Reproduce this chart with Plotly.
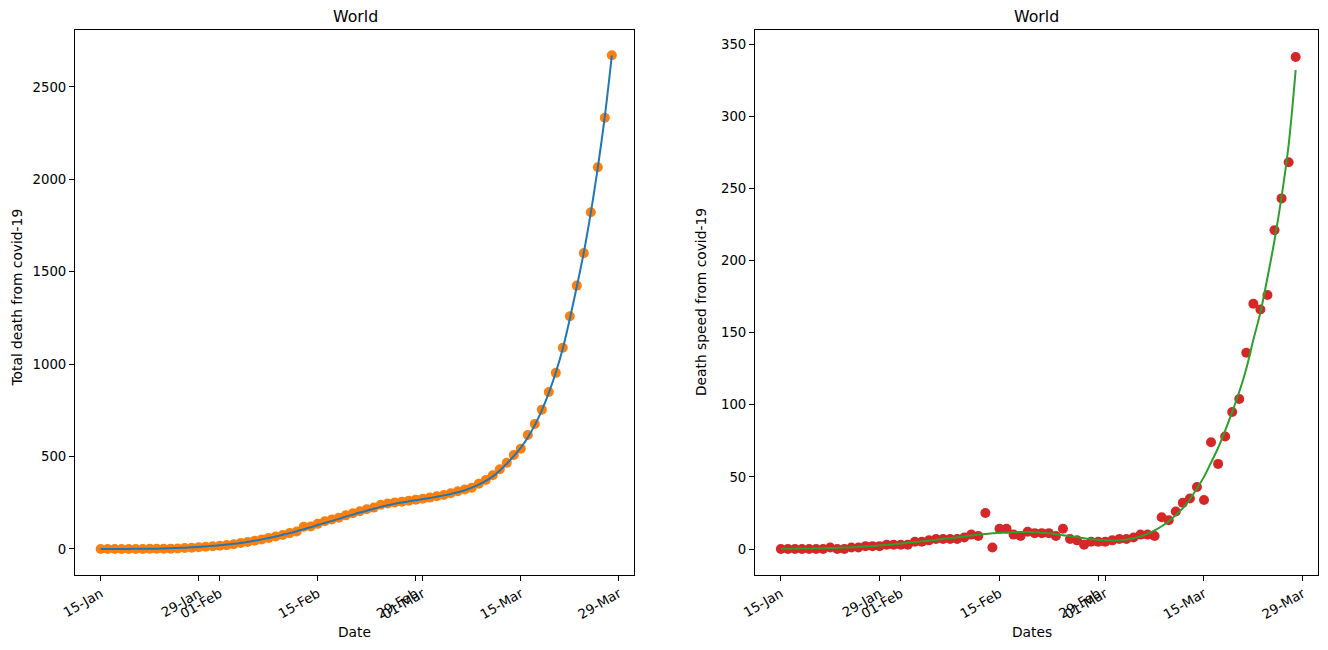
import pandas as pd
import plotly.graph_objects as go

start_date = "2020-01-15"
n_days = 74
dates = pd.date_range(start_date, periods=n_days)

total_deaths = [0, 0, 0, 0, 0, 0, 0, 1, 1, 1, 2, 3, 5, 7, 9, 12, 15, 18, 21, 26,
                32, 38, 45, 52, 60, 68, 76, 86, 95, 120, 122, 136, 150, 160, 169,
                182, 193, 204, 215, 224, 239, 246, 252, 256, 261, 267, 272, 278,
                285, 292, 302, 312, 322, 331, 353, 373, 399, 431, 466, 509, 543,
                617, 676, 754, 849, 953, 1089, 1259, 1425, 1601, 1822, 2065, 2333, 2671]

death_speed = [0, 0, 0, 0, 0, 0, 0, 1, 0, 0, 1, 1, 2, 2, 2, 3, 3, 3, 3, 5,
               5, 6, 7, 7, 7, 7, 8, 10, 9, 25, 1, 14, 14, 10, 9, 12, 11, 11, 11, 9,
               14, 7, 6, 3, 5, 5, 5, 6, 7, 7, 8, 10, 10, 9, 22, 20, 26, 32, 35, 43,
               34, 74, 59, 78, 95, 104, 136, 170, 166, 176, 221, 243, 268, 341]

fit_total = [0, 0, 0, 0, 0.5, 0.8, 1, 1.5, 2, 3, 4, 5.5, 7, 9, 11, 14, 17, 20, 24, 28,
             33, 39, 45, 52, 60, 68, 77, 86, 96, 107, 118, 130, 141, 152, 163, 175,
             186, 197, 207, 218, 228, 237, 245, 252, 258, 264, 270, 276, 283, 290,
             298, 307, 318, 332, 348, 368, 393, 425, 462, 503, 548, 603, 670, 750,
             845, 955, 1085, 1245, 1420, 1605, 1820, 2065, 2340, 2670]

fit_speed = [0.2, 0.2, 0.3, 0.3, 0.4, 0.5, 0.6, 0.7, 0.8, 1.0, 1.2, 1.5, 1.8, 2.1, 2.5,
             2.9, 3.3, 3.8, 4.3, 4.8, 5.3, 5.8, 6.3, 6.9, 7.5, 8.1, 8.7, 9.3, 9.9, 10.4,
             10.9, 11.2, 11.5, 11.7, 11.8, 11.8, 11.6, 11.3, 10.9, 10.3, 9.6, 8.9, 8.1,
             7.4, 6.8, 6.3, 6.0, 5.9, 6.1, 6.6, 7.5, 8.8, 10.6, 12.9, 15.8, 19.3, 23.5,
             28.4, 34.5, 42, 50, 60, 70, 82, 95, 109, 125, 145, 164, 188, 214, 244, 280, 332]

tick_dates = ["2020-01-15", "2020-01-29", "2020-02-01", "2020-02-15",
              "2020-02-29", "2020-03-01", "2020-03-15", "2020-03-29"]
tick_text = ["15-Jan", "29-Jan", "01-Feb", "15-Feb", "29-Feb", "01-Mar", "15-Mar", "29-Mar"]

left_yticks = [0, 500, 1000, 1500, 2000, 2500]
right_yticks = [0, 50, 100, 150, 200, 250, 300, 350]

W, H = 1328, 650
OFF = 8  # page body margin offset
font = "DejaVu Sans"

fig = go.Figure()
fig.add_trace(go.Scatter(x=dates, y=total_deaths, mode="markers",
                         marker=dict(color="#ff7f0e", size=10, line=dict(width=0)),
                         xaxis="x", yaxis="y", showlegend=False))
fig.add_trace(go.Scatter(x=dates, y=fit_total, mode="lines", line_shape="spline",
                         line=dict(color="#1f77b4", width=2),
                         xaxis="x", yaxis="y", showlegend=False))
fig.add_trace(go.Scatter(x=dates, y=death_speed, mode="markers",
                         marker=dict(color="#d62728", size=10, line=dict(width=0)),
                         xaxis="x2", yaxis="y2", showlegend=False))
fig.add_trace(go.Scatter(x=dates, y=fit_speed, mode="lines", line_shape="spline",
                         line=dict(color="#2ca02c", width=2),
                         xaxis="x2", yaxis="y2", showlegend=False))

def px_x(p):
    return (p - OFF) / W

def px_y(p):
    return 1 - (p - OFF) / H

axis_common = dict(showline=True, linecolor="black", linewidth=1, mirror=True,
                   ticks="outside", ticklen=5, tickcolor="black", tickwidth=1,
                   showgrid=False, zeroline=False, automargin=False,
                   tickfont=dict(family=font, size=13.3, color="black"))

xr = ["2020-01-11 08:00", "2020-03-31 04:00"]

def label(text, x, y, size=13.8, angle=0):
    return dict(text=text, x=px_x(x), y=px_y(y), xref="paper", yref="paper",
                xanchor="center", yanchor="middle", textangle=angle, showarrow=False,
                font=dict(family=font, size=size, color="black"))

fig.update_layout(
    template="none",
    width=W, height=H,
    margin=dict(l=0, r=0, t=0, b=0, pad=0),
    paper_bgcolor="white", plot_bgcolor="white",
    font=dict(family=font, size=13, color="black"),
    xaxis=dict(domain=[px_x(75), px_x(634)], anchor="y", type="date", range=xr,
               tickvals=tick_dates, ticktext=tick_text, tickangle=-30, **axis_common),
    yaxis=dict(domain=[px_y(575), px_y(30)], anchor="x", range=[-140.7, 2808],
               tickvals=left_yticks, **axis_common),
    xaxis2=dict(domain=[px_x(755), px_x(1318)], anchor="y2", type="date", range=xr,
                tickvals=tick_dates, ticktext=tick_text, tickangle=-30, **axis_common),
    yaxis2=dict(domain=[px_y(575), px_y(30)], anchor="x2", range=[-18, 359.7],
                tickvals=right_yticks, **axis_common),
    annotations=[
        label("World", 355.5, 16.5, size=15.8),
        label("World", 1036.5, 16.5, size=15.8),
        label("Date", 355, 632),
        label("Dates", 1032, 632),
        label("Total death from covid-19", 16.5, 298, angle=-90),
        label("Death speed from covid-19", 701, 302, angle=-90),
    ],
)

fig.write_html("out.html")
